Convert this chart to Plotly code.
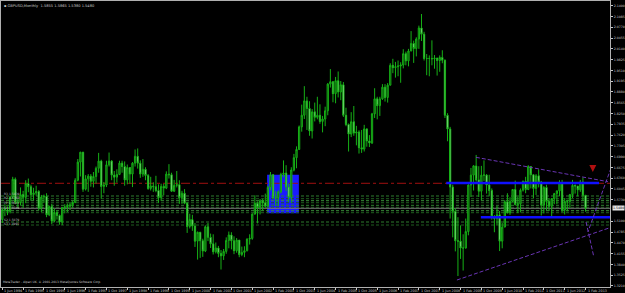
import plotly.graph_objects as go

# ---------------- data (GBPUSD monthly, Jun 1994 .. Feb 2013) ----------------
first_open = 1.5150
closes = [
 1.5440,1.5430,1.5390,1.5800,1.6330,1.5660,1.5650,
 1.5880,1.5800,1.6200,1.6110,1.5880,1.5930,1.5970,1.5490,1.5810,1.5830,1.5290,1.5530,
 1.5110,1.5360,1.5270,1.5080,1.5500,1.5520,1.5540,1.5580,1.5650,1.6300,1.6830,1.7120,
 1.6040,1.6340,1.6420,1.6270,1.6410,1.6650,1.6860,1.6120,1.6160,1.6750,1.6860,1.6450,
 1.6390,1.6470,1.6800,1.6700,1.6310,1.6670,1.6480,1.6800,1.7000,1.6800,1.6480,1.6620,
 1.6440,1.6060,1.6130,1.6110,1.6000,1.5790,1.6120,1.6070,1.6480,1.6460,1.5980,1.6150,
 1.6170,1.5790,1.5920,1.5630,1.4950,1.5150,1.4960,1.4520,1.4780,1.4530,1.4230,1.4940,
 1.4630,1.4440,1.4210,1.4320,1.4160,1.4090,1.4220,1.4540,1.4700,1.4530,1.4240,1.4550,
 1.4130,1.4190,1.4240,1.4580,1.4600,1.5310,1.5630,1.5500,1.5700,1.5640,1.5540,1.6090,
 1.6460,1.5790,1.5790,1.5960,1.6470,1.6510,1.6100,1.5800,1.6600,1.6960,1.7200,1.7860,
 1.8200,1.8620,1.8400,1.7740,1.8300,1.8140,1.8200,1.8020,1.8090,1.8330,1.9110,1.9180,
 1.8830,1.9210,1.8880,1.9090,1.8200,1.7930,1.7650,1.8010,1.7680,1.7710,1.7250,1.7210,
 1.7800,1.7450,1.7390,1.8240,1.8680,1.8480,1.8680,1.9020,1.8720,1.9080,1.9660,1.9590,
 1.9620,1.9640,1.9670,2.0000,1.9790,2.0080,2.0300,2.0150,2.0430,2.0750,2.0570,1.9860,
 1.9860,1.9860,1.9850,1.9870,1.9800,1.9890,1.9810,1.8200,1.7800,1.6100,1.5390,1.4530,
 1.4520,1.4320,1.4320,1.4800,1.6160,1.6450,1.6720,1.6310,1.5980,1.6450,1.6450,1.6160,
 1.6000,1.5240,1.5180,1.5290,1.4520,1.4930,1.5670,1.5350,1.5680,1.6030,1.5590,1.5610,
 1.6010,1.6270,1.6030,1.6700,1.6460,1.6060,1.6430,1.6250,1.5570,1.6090,1.5680,1.5540,
 1.5760,1.5910,1.5990,1.6230,1.5430,1.5680,1.5680,1.5880,1.6150,1.6130,1.6020,1.6250,
 1.5860,1.5480,
]
highs = [
 1.5500,1.5600,1.5530,1.5850,1.6400,1.6380,1.5750,
 1.6090,1.5990,1.6300,1.6350,1.6170,1.6080,1.6140,1.6010,1.5870,1.5880,1.5920,1.5560,
 1.5610,1.5480,1.5420,1.5300,1.5520,1.5600,1.5620,1.5660,1.5690,1.6360,1.6920,1.7130,
 1.7130,1.6450,1.6480,1.6480,1.6540,1.6700,1.7100,1.6900,1.6250,1.6870,1.7110,1.6890,
 1.6570,1.6620,1.6870,1.6870,1.6850,1.6760,1.6670,1.6830,1.7200,1.7230,1.6880,1.6920,
 1.6680,1.6480,1.6400,1.6240,1.6430,1.6180,1.6200,1.6190,1.6560,1.6770,1.6520,1.6310,
 1.6570,1.6300,1.5990,1.6040,1.5660,1.5320,1.5290,1.5050,1.4800,1.4790,1.4590,1.4980,
 1.5050,1.4740,1.4720,1.4480,1.4380,1.4260,1.4290,1.4630,1.4800,1.4780,1.4660,1.4610,
 1.4550,1.4360,1.4370,1.4600,1.4720,1.5330,1.5860,1.5680,1.5750,1.5760,1.5910,1.6140,
 1.6540,1.6480,1.5980,1.6000,1.6520,1.6880,1.6740,1.6200,1.6680,1.7070,1.7290,1.7900,
 1.8510,1.9050,1.8740,1.8610,1.8380,1.8570,1.8740,1.8520,1.8180,1.8450,1.9140,1.9550,
 1.9200,1.9320,1.9480,1.9200,1.9170,1.8420,1.7960,1.8290,1.8470,1.7890,1.7760,1.7770,
 1.7920,1.7820,1.7620,1.8270,1.8990,1.8740,1.8740,1.9110,1.9110,1.9140,1.9720,1.9850,
 1.9760,1.9800,1.9750,2.0130,2.0060,2.0140,2.0660,2.0380,2.0480,2.0820,2.1160,2.0640,
 1.9990,1.9950,2.0390,1.9960,1.9880,1.9950,2.0100,1.9830,1.8260,1.7860,1.6170,1.5480,
 1.5220,1.4980,1.4720,1.5180,1.6180,1.6660,1.6740,1.7040,1.6710,1.6720,1.6880,1.6480,
 1.6460,1.6060,1.5280,1.5550,1.5400,1.5050,1.5720,1.5920,1.5800,1.6040,1.6290,1.5820,
 1.6060,1.6290,1.6400,1.6740,1.6700,1.6470,1.6480,1.6620,1.6280,1.6130,1.6170,1.5780,
 1.5780,1.5930,1.6000,1.6300,1.6310,1.5780,1.5730,1.5900,1.6310,1.6180,1.6130,1.6310,
 1.6380,1.5870,
]
lows = [
 1.5050,1.5250,1.5280,1.5330,1.5750,1.5600,1.5500,
 1.5560,1.5500,1.5630,1.5950,1.5700,1.5710,1.5850,1.5420,1.5370,1.5640,1.5220,1.5250,
 1.5020,1.5070,1.5150,1.5000,1.4990,1.5330,1.5370,1.5430,1.5500,1.5630,1.6270,1.6410,
 1.5960,1.6000,1.5960,1.6110,1.6090,1.6200,1.6520,1.5760,1.5920,1.6100,1.6700,1.6300,
 1.6140,1.6230,1.6450,1.6520,1.6140,1.6180,1.6200,1.6100,1.6700,1.6640,1.6370,1.6400,
 1.6300,1.6020,1.6000,1.5960,1.5950,1.5640,1.5700,1.5860,1.6040,1.6350,1.5960,1.5960,
 1.6090,1.5610,1.5610,1.5600,1.4760,1.4890,1.4820,1.4350,1.3980,1.4030,1.4060,1.4200,
 1.4520,1.4320,1.4130,1.4160,1.4050,1.3690,1.3970,1.4150,1.4310,1.4280,1.4140,1.4180,
 1.4050,1.4080,1.4050,1.4220,1.4420,1.4560,1.5300,1.5040,1.5300,1.5410,1.5490,1.5540,
 1.6000,1.5750,1.5550,1.5550,1.5920,1.6390,1.5990,1.5660,1.5640,1.6560,1.6650,1.7190,
 1.7720,1.8090,1.7770,1.7600,1.7520,1.8020,1.8080,1.7950,1.7700,1.7880,1.8200,1.9010,
 1.8580,1.8550,1.8720,1.8640,1.8150,1.7880,1.7140,1.7560,1.7600,1.7320,1.7080,1.7100,
 1.7140,1.7280,1.7270,1.7360,1.8120,1.8080,1.8180,1.8650,1.8600,1.8570,1.9070,1.9430,
 1.9300,1.9340,1.9150,1.9570,1.9660,1.9630,2.0070,1.9730,1.9920,2.0140,2.0370,1.9800,
 1.9370,1.9340,1.9660,1.9560,1.9360,1.9470,1.9720,1.8120,1.7440,1.5180,1.4630,1.4220,
 1.3500,1.4000,1.3660,1.4300,1.4690,1.5810,1.6000,1.6260,1.5810,1.5710,1.6280,1.5910,
 1.5830,1.5150,1.4780,1.5000,1.4230,1.4310,1.4930,1.5330,1.5290,1.5660,1.5560,1.5340,
 1.5360,1.5970,1.5920,1.6010,1.6060,1.5780,1.5870,1.6090,1.5270,1.5330,1.5420,1.5400,
 1.5240,1.5600,1.5600,1.5830,1.5370,1.5300,1.5390,1.5490,1.5780,1.5910,1.5830,1.5960,
 1.5700,1.5380,
]
opens = [first_open] + closes[:-1]
months = list(range(len(closes)))          # 0 = Jun 1994

date_labels = ["1 Jun 1994","1 Feb 1995","1 Oct 1995","1 Jun 1996","1 Feb 1997","1 Oct 1997",
               "1 Jun 1998","1 Feb 1999","1 Oct 1999","1 Jun 2000","1 Feb 2001","1 Oct 2001",
               "1 Jun 2002","1 Feb 2003","1 Oct 2003","1 Jun 2004","1 Feb 2005","1 Oct 2005",
               "1 Jun 2006","1 Feb 2007","1 Oct 2007","1 Jun 2008","1 Feb 2009","1 Oct 2009",
               "1 Jun 2010","1 Feb 2011","1 Oct 2011","1 Jun 2012","1 Feb 2013"]
date_pos = [8 * i for i in range(len(date_labels))]

price_ticks = [2.1400,2.1085,2.0770,2.0455,2.0140,1.9825,1.9510,1.9195,1.8880,1.8565,1.8250,
               1.7935,1.7620,1.7305,1.6990,1.6675,1.6360,1.6045,1.5730,1.5100,1.4785,
               1.4470,1.4155,1.3840,1.3525,1.3210]

# horizontal level lines (prices)
green_levels = [1.5839,1.5760,1.5702,1.5643,1.5567,1.5509,1.5410,1.5351,1.5079,1.4991]
red_level = 1.6211
bid = 1.5480
blue_upper = (170.5, 229.2, 1.6219)   # start month, end month, price
blue_lower = (183.8, 233.8, 1.5217)
blue_box = (101.7, 113.9, 1.5334, 1.6462)
# purple trend lines: (m0, p0, m1, p1)
trend_lines = [(181.9, 1.6971, 232.6, 1.6258),
               (174.6, 1.3383, 233.8, 1.4924),
               (233.8, 1.6658, 224.9, 1.4787),
               (224.2, 1.5079, 227.2, 1.4056)]
arrow_pt = (226.8, 1.654)
left_lbls = [(1.5898, "R3 1.5839"), (1.5781, "R2 1.5760"), (1.5635, "PP 1.5643"),
             (1.5489, "S1 1.5509"), (1.5138, "S2 1.5079"), (1.5021, "S3 1.4991")]

x_range = [-0.5, 233.4]
y_range = [1.3179, 2.1540]

fig = go.Figure()

shapes = []
shapes.append(dict(type="rect", layer="below", x0=blue_box[0], x1=blue_box[1],
                   y0=blue_box[2], y1=blue_box[3], fillcolor="#1a1aff", line=dict(width=0)))
gcols = ["#2e7d2e", "#1f5f1f", "#3a8f3a", "#1f5f1f", "#2e7d2e", "#1f5f1f", "#3a8f3a",
         "#1f5f1f", "#2e7d2e", "#1f5f1f"]
for lv, c in zip(green_levels, gcols):
    shapes.append(dict(type="line", layer="below", x0=x_range[0], x1=x_range[1], y0=lv, y1=lv,
                       line=dict(color=c, width=1, dash="3px,2px")))
shapes.append(dict(type="line", layer="below", x0=x_range[0], x1=x_range[1], y0=bid, y1=bid,
                   line=dict(color="#7a7a7a", width=1)))
shapes.append(dict(type="line", layer="below", x0=x_range[0], x1=x_range[1], y0=red_level, y1=red_level,
                   line=dict(color="#a01010", width=1, dash="dashdot")))
for (a, b, p) in (blue_upper, blue_lower):
    shapes.append(dict(type="line", x0=a, x1=min(b, x_range[1]), y0=p, y1=p,
                       line=dict(color="#1010ff", width=2.5)))
for (m0, p0, m1, p1) in trend_lines:
    shapes.append(dict(type="line", x0=m0, x1=m1, y0=p0, y1=p1,
                       line=dict(color="#6a35b5", width=1, dash="4px,2px")))

fig.add_trace(go.Candlestick(
    x=months, open=opens, high=highs, low=lows, close=closes,
    increasing=dict(line=dict(color="#16b016", width=1), fillcolor="#0d3d0d"),
    decreasing=dict(line=dict(color="#16b016", width=1), fillcolor="#d8ffd8"),
    whiskerwidth=0, showlegend=False, hoverinfo="skip"))

fig.add_trace(go.Scatter(x=[arrow_pt[0]], y=[arrow_pt[1]], mode="markers",
                         marker=dict(symbol="arrow-down", size=7, color="#b01010"),
                         showlegend=False, hoverinfo="skip"))

annotations = []
annotations.append(dict(xref="paper", yref="paper", x=0.004, y=0.993, xanchor="left", yanchor="top",
                        text="▪ GBPUSD,Monthly  1.5855 1.5865 1.5380 1.5480", showarrow=False,
                        borderpad=0, font=dict(family="DejaVu Sans", size=3.6, color="#c8c8c8")))
annotations.append(dict(xref="paper", yref="paper", x=0.002, y=0.006, xanchor="left", yanchor="bottom",
                        text="MetaTrader - Alpari UK, © 2001-2013 MetaQuotes Software Corp.",
                        borderpad=0, showarrow=False,
                        font=dict(family="DejaVu Sans", size=3, color="#c8c8c8")))
for p, t in left_lbls:
    annotations.append(dict(x=0.3, y=p, xanchor="left", yanchor="middle", text=t, showarrow=False,
                            borderpad=0, font=dict(family="DejaVu Sans", size=3, color="#b8b8b8")))
for m, t in zip(date_pos, date_labels):
    annotations.append(dict(x=m + 0.4, yref="paper", y=-0.002, xanchor="left", yanchor="top",
                            text=t, showarrow=False, borderpad=0,
                            font=dict(family="DejaVu Sans", size=3.4, color="#c8c8c8")))
annotations.append(dict(xref="paper", x=1.003, y=bid, xanchor="left", yanchor="middle",
                        text=f"{bid:.4f}", showarrow=False, bgcolor="#e8e8e8",
                        font=dict(family="DejaVu Sans", size=3.2, color="black"),
                        borderpad=0))

fig.update_layout(
    width=625, height=293,
    margin=dict(l=1, r=15, t=1, b=6, autoexpand=False),
    paper_bgcolor="black", plot_bgcolor="black",
    shapes=shapes, annotations=annotations,
    xaxis=dict(range=x_range, rangeslider=dict(visible=False), showgrid=False, zeroline=False,
               automargin=False, showticklabels=False,
               tickmode="array", tickvals=date_pos,
               ticks="outside", ticklen=2, tickcolor="#c8c8c8",
               showline=True, linecolor="#b0b0b0", linewidth=1, mirror=True),
    yaxis=dict(range=y_range, side="right", showgrid=False, zeroline=False,
               automargin=False,
               tickmode="array", tickvals=price_ticks, ticktext=[f"{v:.4f}" for v in price_ticks],
               ticks="outside", ticklen=2, tickcolor="#c8c8c8", ticklabelstandoff=0,
               tickfont=dict(family="DejaVu Sans", size=3.2, color="#c8c8c8"),
               showline=True, linecolor="#b0b0b0", linewidth=1, mirror=True),
)

fig.write_html("out.html")
